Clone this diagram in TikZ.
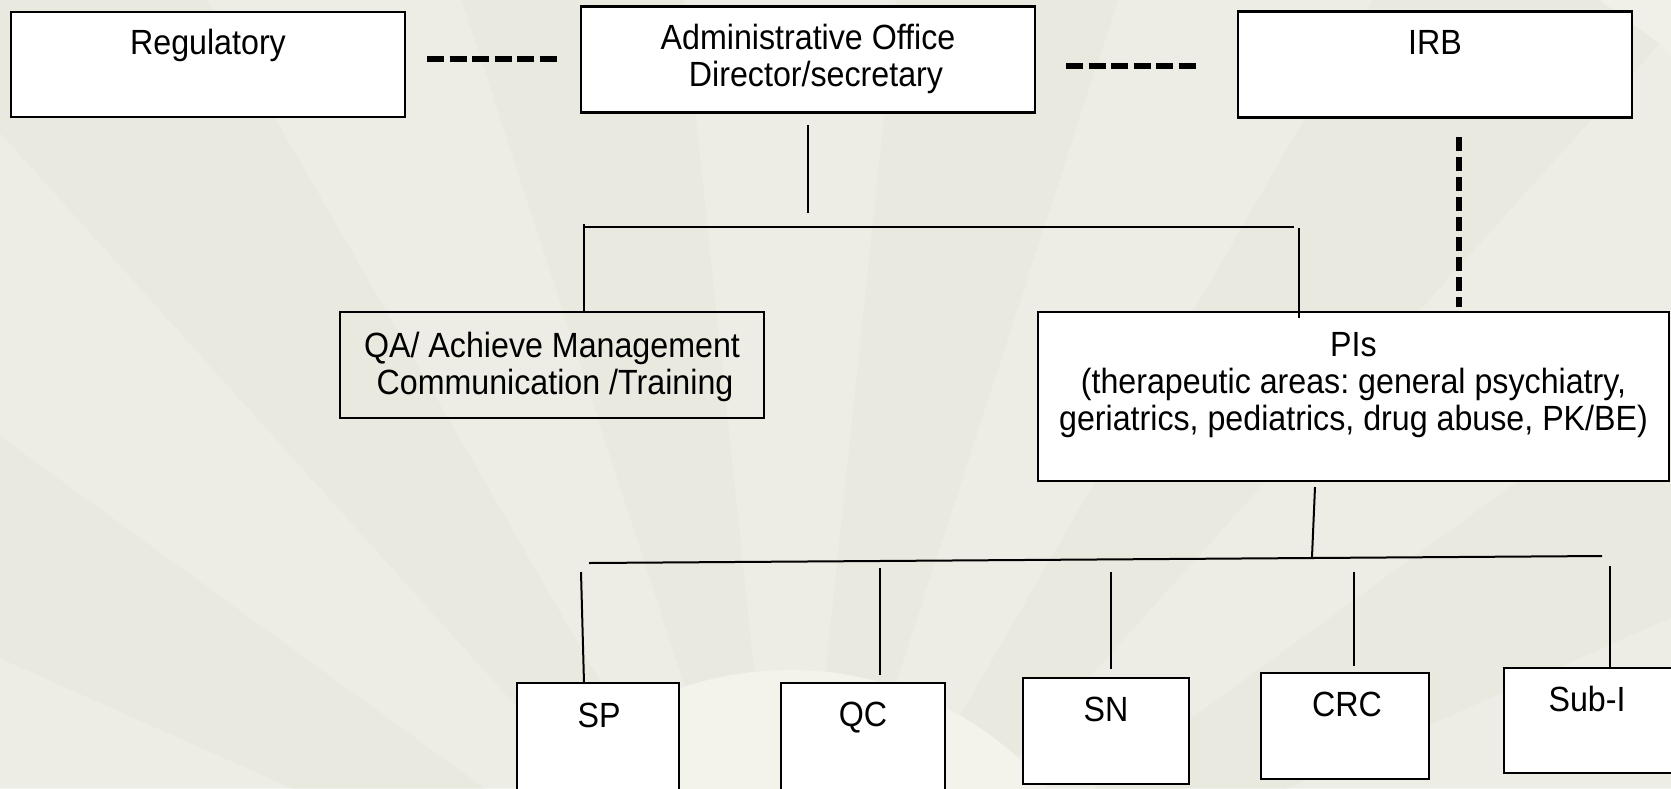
\documentclass[tikz,border=0pt]{standalone}
\usepackage{fontspec}
\usetikzlibrary{calc}
\setmainfont[FakeStretch=0.92]{Liberation Sans}
\definecolor{paper}{RGB}{240,240,232}
\definecolor{panelA}{RGB}{229,229,220}
\definecolor{panelB}{RGB}{236,236,228}
\definecolor{innerband}{RGB}{243,243,236}
\frenchspacing
\begin{document}
\begin{tikzpicture}[x=1pt,y=-1pt,
  box/.style={draw=black, line width=2.2pt, fill=white, inner sep=0pt},
  clearbox/.style={draw=black, line width=2.2pt, inner sep=0pt},
  lbl/.style={font=\fontsize{35}{37}\selectfont, align=center, inner sep=0pt},
  link/.style={draw=black, line width=2pt},
  hdash/.style={draw=black, line width=5.5pt, dash pattern=on 17pt off 5.5pt},
  vdash/.style={draw=black, line width=5.5pt, dash pattern=on 14pt off 6pt}]

% paper and fan backdrop (the y axis points down, so the fan opens over 180..360 degrees)
\fill[paper] (0,0) rectangle (1671,788);
\coordinate (fc) at (790,1010);
\begin{scope}
  \clip (0,0) rectangle (1671,788);
  \foreach \a [count=\i] in {180,192,...,348}{
    \pgfmathsetmacro{\b}{\a+12}
    \ifodd\i \def\pc{panelA}\else \def\pc{panelB}\fi
    \fill[\pc, opacity=0.6] ($(fc)+(\a:340)$) -- ($(fc)+(\a:1300)$) -- ($(fc)+(\b:1300)$) -- ($(fc)+(\b:340)$) -- cycle;
  }
  \fill[innerband] (fc) circle[radius=340];
\end{scope}
\useasboundingbox (0,0) rectangle (1671,788);

% top row
\node[box, minimum width=394pt, minimum height=105pt] (reg) at (208,64.5) {};
\node[lbl] (regt) at (208,45) {Regulatory};
\node[box, minimum width=454pt, minimum height=106pt] (adm) at (808,59.5) {};
\node[lbl] (admt) at (808,59) {Administrative Office\\\hspace*{16pt}Director/secretary};
\node[box, minimum width=394pt, minimum height=106pt] (irb) at (1435,64.5) {};
\node[lbl] (irbt) at (1435,42) {IRB};

% middle row
\node[clearbox, minimum width=424pt, minimum height=106pt] (qa) at (552,365) {};
\node[lbl] (qat) at (552,367) {QA/ Achieve Management\\\hspace*{6pt}Communication /Training};
\node[box, minimum width=631pt, minimum height=169pt] (pis) at (1353.5,396.5) {};
\node[lbl] (pist) at (1353.5,385.5) {PIs\\(therapeutic areas: general psychiatry,\\geriatrics, pediatrics, drug abuse, PK/BE)};

% bottom row
\node[box, minimum width=162pt, minimum height=120pt] (sp) at (598,743) {};
\node[lbl] (spt) at (599,715) {SP};
\node[box, minimum width=164pt, minimum height=120pt] (qc) at (863,743) {};
\node[lbl] (qct) at (863,718) {QC};
\node[box, minimum width=166pt, minimum height=106pt] (sn) at (1106,731) {};
\node[lbl] (snt) at (1106,709) {SN};
\node[box, minimum width=168pt, minimum height=106pt] (crc) at (1345,726) {};
\node[lbl] (crct) at (1347,704) {CRC};
\node[box, minimum width=186pt, minimum height=105pt] (subi) at (1597,720.5) {};
\node[lbl] (subit) at (1587,699) {Sub-I};

% dashed links between top boxes
\coordinate (d1a) at (427,59);
\coordinate (d1b) at (559,59);
\coordinate (d2a) at (1066,66);
\coordinate (d2b) at (1196,66);
\draw[hdash] (d1a) -- (d1b);
\draw[hdash] (d2a) -- (d2b);
\coordinate (d3a) at (1459,137);
\coordinate (d3b) at (1459,307);
\draw[vdash] (d3a) -- (d3b);

% administrative office branch
\coordinate (a1) at (808,125);
\coordinate (a2) at (808,213);
\draw[link] (a1) -- (a2);
\coordinate (hl) at (584,227);
\coordinate (hr) at (1294,227);
\draw[link] (hl) -- (hr);
\coordinate (ql) at (584,224);
\draw[link] (ql) -- (qa.north -| ql);
\coordinate (pr) at (1299,228);
\coordinate (pe) at (1299,318);
\draw[link] (pr) -- (pe);

% PIs branch
\coordinate (p1) at (1315,487);
\coordinate (p2) at (1312,557);
\draw[link] (p1) -- (p2);
\coordinate (bl) at (589,563);
\coordinate (br) at (1602,556);
\draw[link] (bl) -- (br);
\coordinate (s1) at (581,572);
\coordinate (e1) at (584,683);
\draw[link] (s1) -- (e1);
\coordinate (s2) at (880,568);
\coordinate (e2) at (880,675);
\draw[link] (s2) -- (e2);
\coordinate (s3) at (1111,572);
\coordinate (e3) at (1111,669);
\draw[link] (s3) -- (e3);
\coordinate (s4) at (1354,572);
\coordinate (e4) at (1354,666);
\draw[link] (s4) -- (e4);
\coordinate (s5) at (1610,566);
\coordinate (e5) at (1610,667);
\draw[link] (s5) -- (e5);
\end{tikzpicture}
\end{document}
